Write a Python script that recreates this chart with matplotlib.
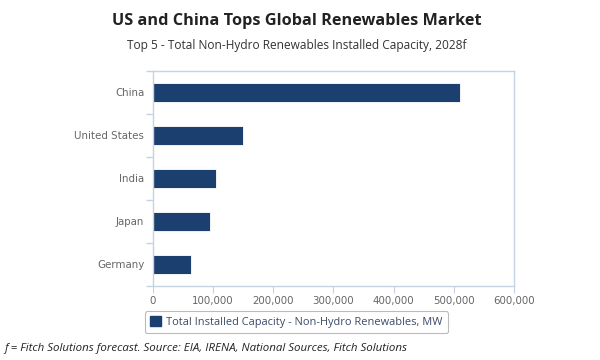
"""Top 5 non-hydro renewables installed capacity, 2028f."""

import matplotlib.pyplot as plt
from matplotlib.patches import Patch
from matplotlib.ticker import FuncFormatter, FixedLocator

COUNTRIES = ["China", "United States", "India", "Japan", "Germany"]
CAPACITY_MW = [511000, 149500, 104600, 95700, 64100]
X_TICKS = [0, 100000, 200000, 300000, 400000, 500000, 600000]

BAR_COLOUR = "#1b3f6f"
AXIS_COLOUR = "#c5d3e3"
LABEL_COLOUR = "#666666"


def main() -> None:
    fig = plt.figure(figsize=(6, 3.6), dpi=100)
    ax = fig.add_axes([0.2545, 0.2056, 0.6022, 0.5972])

    positions = list(range(len(COUNTRIES)))[::-1]
    ax.barh(positions, CAPACITY_MW, height=0.46, color=BAR_COLOUR,
            edgecolor="white", linewidth=0.6)

    ax.set_xlim(0, 600000)
    ax.set_ylim(-0.5, len(COUNTRIES) - 0.5)
    ax.set_xticks(X_TICKS)
    ax.xaxis.set_major_formatter(FuncFormatter(lambda v, _: f"{int(v):,}"))
    ax.set_yticks(positions)
    ax.set_yticklabels(COUNTRIES)
    ax.yaxis.set_minor_locator(FixedLocator([p + 0.5 for p in range(-1, len(COUNTRIES))]))

    ax.tick_params(axis="y", which="major", length=0, pad=6,
                   labelsize=7.4, labelcolor=LABEL_COLOUR)
    ax.tick_params(axis="y", which="minor", length=5, color=AXIS_COLOUR, width=1)
    ax.tick_params(axis="x", which="major", length=5, color=AXIS_COLOUR,
                   labelsize=7.4, labelcolor=LABEL_COLOUR, pad=2)
    for name, spine in ax.spines.items():
        spine.set_color(AXIS_COLOUR)
        spine.set_linewidth(1)

    fig.text(0.494, 0.943, "US and China Tops Global Renewables Market",
             ha="center", va="center", fontsize=11.7, fontweight="bold",
             family="Open Sans", color="#222222")
    fig.text(0.494, 0.875, "Top 5 - Total Non-Hydro Renewables Installed Capacity, 2028f",
             ha="center", va="center", fontsize=8.6, family="Open Sans",
             color="#333333")

    handle = Patch(facecolor=BAR_COLOUR, edgecolor=BAR_COLOUR)
    leg = fig.legend([handle], ["Total Installed Capacity - Non-Hydro Renewables, MW"],
                     loc="center", bbox_to_anchor=(0.494, 0.105), frameon=True,
                     fancybox=True, handlelength=1.0, handleheight=1.0,
                     handletextpad=0.5, borderpad=0.45,
                     prop={"family": "Open Sans", "size": 7.9})
    leg.get_frame().set_edgecolor("#aaaaaa")
    leg.get_frame().set_linewidth(0.8)
    for text in leg.get_texts():
        text.set_color("#3a4a68")

    fig.text(0.008, 0.031,
             "f = Fitch Solutions forecast. Source: EIA, IRENA, National Sources, Fitch Solutions",
             ha="left", va="center", fontsize=8.25, style="italic",
             family="Open Sans", color="#222222")

    fig.savefig("out.png", dpi=100)


if __name__ == "__main__":
    main()
